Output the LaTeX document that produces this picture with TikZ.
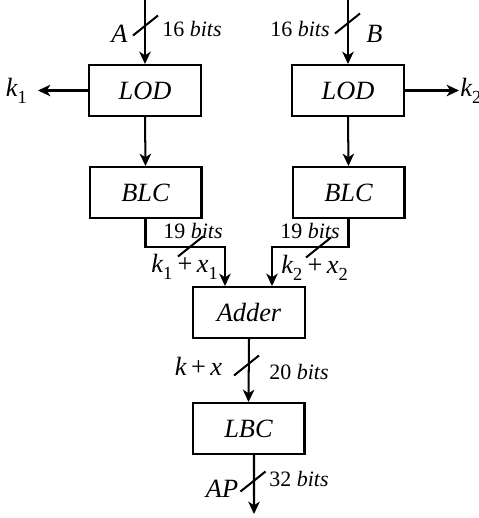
\documentclass[tikz,border=0pt]{standalone}
\usepackage{fontspec}
\setmainfont{Liberation Serif}
\usetikzlibrary{arrows.meta, positioning, calc}
\tikzset{
  blk/.style={draw, line width=1.15pt, minimum width=2.24cm, minimum height=1.02cm, inner sep=0pt, font=\fontsize{15}{18}\selectfont\itshape},
  wire/.style={line width=1.15pt},
  arr/.style={wire, -{Stealth[length=7pt, width=6.5pt, inset=2pt]}},
  sig/.style={inner sep=0pt, font=\fontsize{15}{18}\selectfont\itshape},
  bits/.style={inner sep=0pt, font=\fontsize{12.5}{15}\selectfont},
}
\newcommand{\busmark}[1]{\draw[wire] ($(#1)+(-12.5,10)$) -- ($(#1)+(12.5,-10)$);}
\newcommand{\nb}[1]{\textup{#1}~\textit{bits}}
\newcommand{\sub}[1]{\raisebox{-0.3ex}{\textsubscript{\upshape #1}}}

\begin{document}
\begin{tikzpicture}[x=0.02cm, y=-0.02cm]
  \useasboundingbox (0,0) rectangle (479,518);
  % blocks
  \node[blk] (lodA) at (145,90.5) {LOD};
  \node[blk] (lodB) at (348,90.5) {LOD};
  \node[blk] (blcA) at (145.5,192.5) {BLC};
  \node[blk] (blcB) at (348.5,192.5) {BLC};
  \node[blk] (adder) at (249,312.5) {Adder};
  \node[blk] (lbc) at (248.5,428.5) {LBC};
  \coordinate (inA) at (145,0); \coordinate (inB) at (348,0);
  \coordinate (kOne) at (38,90.5); \coordinate (kTwo) at (459,90.5);
  \coordinate (out) at (254,514);
  % wires
  \draw[arr] (inA) -- (lodA.north);
  \draw[arr] (inB) -- (lodB.north);
  \draw[arr] (lodA.west) -- (kOne);
  \draw[arr] (lodB.east) -- (kTwo);
  \draw[arr] (lodA.south) -- (blcA.north);
  \draw[arr] (lodB.south) -- (blcB.north);
  \draw[arr] (blcA.south) -- ++(0,28) -| ($(adder.north)+(-24,0)$);
  \draw[arr] (blcB.south) -- ++(0,28) -| ($(adder.north)+(23,0)$);
  \draw[arr] (adder.south) -- (lbc.north);
  \draw[arr] ($(lbc.south)+(5.5,0)$) -- (out);
  % bus marks
  \busmark{145.5,25.5} \busmark{347.5,23.5}
  \busmark{190.5,246.5} \busmark{318.5,247.5}
  \busmark{246.5,365.5} \busmark{253,481.5}
  % labels
  \node[sig] (lA) at (119.5,34) {A};
  \node[bits] (bA) at (192,29) {\nb{16}};
  \node[bits] (bB) at (300,29) {\nb{16}};
  \node[sig] (lB) at (374.5,34) {B};
  \node[sig, anchor=east] (lk1) at (28,91) {k\sub{1}};
  \node[sig, anchor=west] (lk2) at (460,91) {k\sub{2}};
  \node[bits] (b1) at (193,231) {\nb{19}};
  \node[bits] (b2) at (310,231) {\nb{19}};
  \node[sig] (s1) at (185,267) {k\sub{1}\,\textup{+}\,x\sub{1}};
  \node[sig] (s2) at (315,268) {k\sub{2}\,\textup{+}\,x\sub{2}};
  \node[sig] (sum) at (198.5,366) {k\,\textup{+}\,x};
  \node[bits] (b20) at (299,372) {\nb{20}};
  \node[sig] (ap) at (222,489) {AP};
  \node[bits] (b32) at (299,479) {\nb{32}};
\end{tikzpicture}
\end{document}
